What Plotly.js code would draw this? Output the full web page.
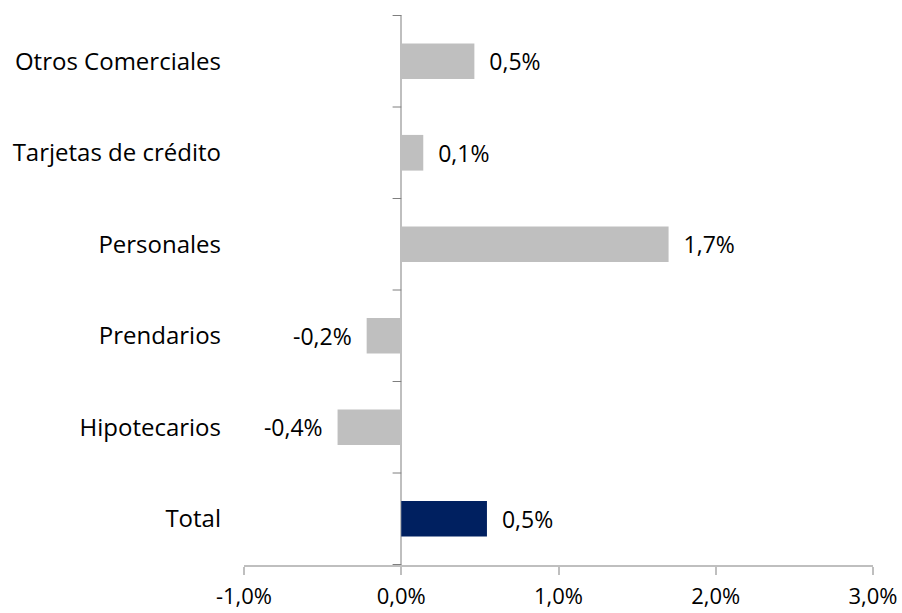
<!DOCTYPE html>
<html>
<head>
<meta charset="utf-8">
<script src="https://cdn.plot.ly/plotly-3.0.1.min.js"></script>
<style>html,body{margin:0;padding:0;background:#fff;}#chart{width:902px;height:613px;}</style>
</head>
<body>
<div id="chart"></div>
<script>
const categories = ["Otros Comerciales", "Tarjetas de crédito", "Personales", "Prendarios", "Hipotecarios", "Total"];
const values = [0.465, 0.14, 1.70, -0.22, -0.405, 0.545];
const barColors = ["#bfbfbf", "#bfbfbf", "#bfbfbf", "#bfbfbf", "#bfbfbf", "#002060"];
const xTickVals = [-1, 0, 1, 2, 3];
const xTickText = ["-1,0%", "0,0%", "1,0%", "2,0%", "3,0%"];

function fmt(v) {
  const s = (v < 0 ? "-" : "") + Math.abs(v).toFixed(1).replace(".", ",") + "%";
  return v < 0 ? s + "  " : "  " + s;
}

const font = "Open Sans, sans-serif";
const trace = {
  type: "bar",
  orientation: "h",
  y: categories,
  x: values,
  marker: { color: barColors, line: { width: 0 } },
  text: values.map(fmt),
  textposition: "outside",
  cliponaxis: false,
  textfont: { family: font, size: 23, color: "#000" },
  hoverinfo: "skip"
};

const shapes = [];
for (let i = 0; i <= categories.length; i++) {
  shapes.push({
    type: "line", xref: "x", yref: "y",
    x0: -0.055, x1: 0, y0: i - 0.5, y1: i - 0.5,
    line: { color: "#7f7f7f", width: 1 }
  });
}

const layout = {
  width: 902, height: 613,
  margin: { l: 244, r: 29, t: 15, b: 48 },
  paper_bgcolor: "#fff", plot_bgcolor: "#fff",
  showlegend: false,
  bargap: 0.61,
  font: { family: font, size: 23, color: "#000" },
  xaxis: {
    range: [-1, 3],
    tickvals: xTickVals,
    ticktext: xTickText,
    showgrid: false,
    zeroline: true, zerolinecolor: "#bfbfbf", zerolinewidth: 2,
    showline: true, linecolor: "#bfbfbf", linewidth: 2,
    ticks: "outside", ticklen: 8, tickcolor: "#bfbfbf", tickwidth: 2,
    ticklabelstandoff: 3,
    tickfont: { family: font, size: 22, color: "#000" },
    fixedrange: true
  },
  yaxis: {
    type: "category",
    autorange: "reversed",
    showgrid: false, zeroline: false, showline: false,
    ticks: "",
    ticklabelstandoff: 22,
    tickfont: { family: font, size: 24, color: "#000" },
    fixedrange: true
  },
  shapes: shapes
};

Plotly.newPlot("chart", [trace], layout, { displayModeBar: false, staticPlot: true });
</script>
</body>
</html>
